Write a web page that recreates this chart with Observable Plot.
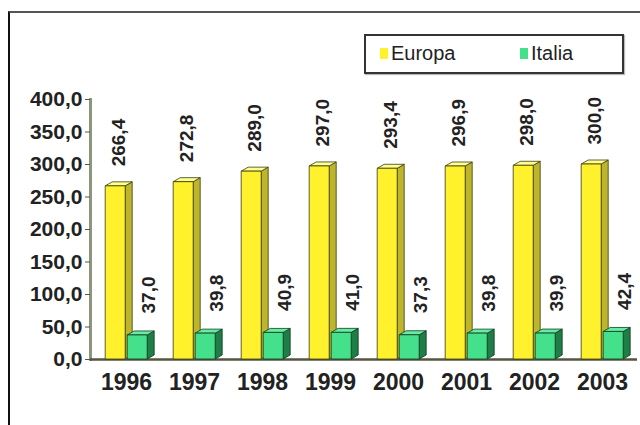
<!DOCTYPE html>
<html>
<head>
<meta charset="utf-8">
<script src="https://cdn.jsdelivr.net/npm/d3@7"></script>
<script src="https://cdn.jsdelivr.net/npm/@observablehq/plot@0.6"></script>
<style>
  html, body { margin: 0; padding: 0; background: #fff; }
  #wrap { position: relative; width: 640px; height: 425px; overflow: hidden; background: #fff; }
  #frame { position: absolute; left: 8px; top: 11px; width: 640px; height: 430px;
           border-left: 2px solid #111; border-top: 2px solid #555; }
  #chart { position: absolute; left: 0; top: 0; }
  #legend { position: absolute; left: 364px; top: 34px; width: 256px; height: 36px;
            border: 2px solid #333; background: #fff; box-shadow: 1px 1px 1px #bbb;
            font-family: "Liberation Sans", Arial, sans-serif; font-size: 20px; color: #222; }
  .li { position: absolute; top: 6px; display: flex; align-items: center; }
  .sw { display: inline-block; width: 8px; height: 11px; margin-right: 3px; }
</style>
</head>
<body>
<div id="wrap">
  <div id="frame"></div>
  <div id="chart"></div>
  <div id="legend"></div>
</div>
<script>
const years = ["1996", "1997", "1998", "1999", "2000", "2001", "2002", "2003"];
const europa = [266.4, 272.8, 289.0, 297.0, 293.4, 296.9, 298.0, 300.0];
const italia = [37.0, 39.8, 40.9, 41.0, 37.3, 39.8, 39.9, 42.4];
const yTicks = [0, 50, 100, 150, 200, 250, 300, 350, 400];
const seriesNames = ["Europa", "Italia"];
const seriesColors = ["#fff22c", "#45e08c"];

const fmt = (v) => v.toFixed(1).replace(".", ",");

const eData = years.map((y, i) => ({year: y, v: europa[i]}));
const iData = years.map((y, i) => ({year: y, v: italia[i]}));

const DX = 7, DY = 4, BARW = 20;

function box3d(data, insetL, front, side, top, edge) {
  return function (index, scales, values, dims, context, next) {
    const x = scales.x, y = scales.y;
    const g = d3.create("svg:g");
    for (const i of index) {
      const d = data[i];
      const x0 = x(d.year) + insetL, x1 = x0 + BARW;
      const yT = y(d.v), yB = y(0);
      const poly = (pts, fill) => g.append("polygon")
        .attr("points", pts.map(p => p.join(",")).join(" "))
        .attr("fill", fill).attr("stroke", edge).attr("stroke-width", 0.8)
        .attr("stroke-linejoin", "round");
      poly([[x1, yT], [x1 + DX, yT - DY], [x1 + DX, yB - DY], [x1, yB]], side);
      poly([[x0, yT], [x0 + DX, yT - DY], [x1 + DX, yT - DY], [x1, yT]], top);
      poly([[x0, yT], [x1, yT], [x1, yB], [x0, yB]], front);
    }
    return g.node();
  };
}

const chart = Plot.plot({
  width: 640,
  height: 425,
  marginLeft: 90,
  marginRight: 3,
  marginTop: 99,
  marginBottom: 66,
  style: {background: "transparent", fontFamily: "'Liberation Sans', Arial, sans-serif", color: "#222"},
  x: {domain: years, padding: 0},
  y: {domain: [0, 400]},
  marks: [
    Plot.frame({anchor: "left", stroke: "#8c9679", strokeWidth: 3}),
    Plot.ruleY([0], {stroke: "#55553f", strokeWidth: 2.5}),
    Plot.axisY({ticks: yTicks, tickFormat: fmt, tickSize: 5, tickPadding: 3,
      fontSize: 21, fontWeight: "bold", stroke: "#555", label: null,
      style: {letterSpacing: "1px"}}),
    Plot.axisX({tickSize: 0, tickPadding: 14, fontSize: 23, fontWeight: "bold", label: null,
      style: {letterSpacing: "1px"}}),
    Plot.barY(eData, {x: "year", y1: 0, y2: "v", insetLeft: 13.2, insetRight: 35.2, fill: seriesColors[0],
      render: box3d(eData, 13.2, seriesColors[0], "#bdb62c", "#ffff90", "#3a3a10")}),
    Plot.barY(iData, {x: "year", y1: 0, y2: "v", insetLeft: 35.2, insetRight: 13.2, fill: seriesColors[1],
      render: box3d(iData, 35.2, seriesColors[1], "#1f7d48", "#68eca4", "#0e3a1e")}),
    Plot.text(eData, {x: "year", y: "v", text: d => fmt(d.v), rotate: -90, textAnchor: "start",
      lineAnchor: "middle", dx: -8, dy: -20, fontSize: 19, fontWeight: "bold", fill: "#222"}),
    Plot.text(iData, {x: "year", y: "v", text: d => fmt(d.v), rotate: -90, textAnchor: "start",
      lineAnchor: "middle", dx: 22, dy: -22, fontSize: 19, fontWeight: "bold", fill: "#222"})
  ]
});
document.getElementById("chart").appendChild(chart);

const legend = document.getElementById("legend");
const legendX = [14, 154];
seriesNames.forEach((name, k) => {
  const item = document.createElement("div");
  item.className = "li";
  item.style.left = legendX[k] + "px";
  const sw = document.createElement("span");
  sw.className = "sw";
  sw.style.background = seriesColors[k];
  item.appendChild(sw);
  item.appendChild(document.createTextNode(name));
  legend.appendChild(item);
});
</script>
</body>
</html>
